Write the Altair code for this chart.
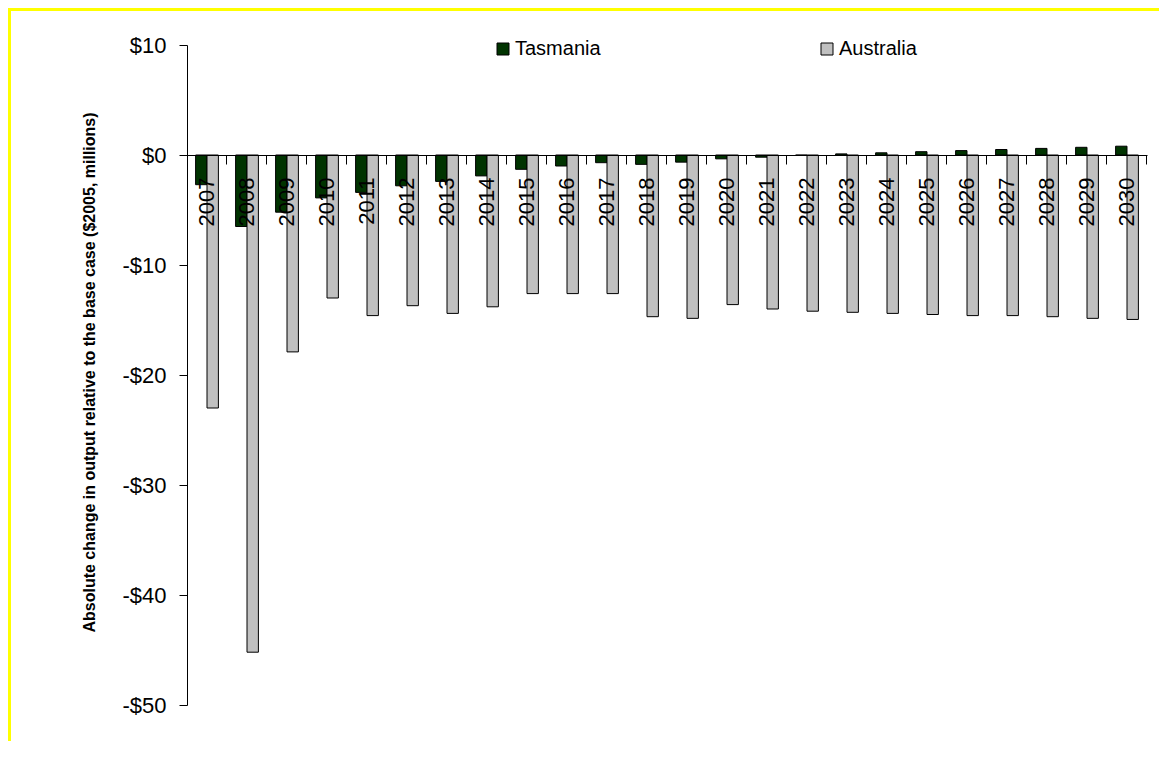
import altair as alt
import pandas as pd

years = [str(y) for y in range(2007, 2031)]
tasmania = [-2.7, -6.5, -5.2, -3.9, -3.4, -2.8, -2.4, -1.9, -1.3, -1.0, -0.7, -0.85,
            -0.65, -0.35, -0.2, -0.02, 0.1, 0.2, 0.3, 0.4, 0.5, 0.6, 0.7, 0.8]
australia = [-23.0, -45.2, -17.9, -13.0, -14.6, -13.7, -14.4, -13.8, -12.6, -12.6, -12.6, -14.7,
             -14.85, -13.6, -14.0, -14.2, -14.3, -14.4, -14.5, -14.6, -14.6, -14.7, -14.85, -14.95]
series = ["Tasmania", "Australia"]
colors = ["#003300", "#C0C0C0"]
y_ticks = [-50, -40, -30, -20, -10, 0, 10]
y_title = "Absolute change in output relative to the base case ($2005, millions)"

rows = []
for i, yr in enumerate(years):
    rows.append({"year": yr, "series": "Tasmania", "value": tasmania[i]})
    rows.append({"year": yr, "series": "Australia", "value": australia[i]})
df = pd.DataFrame(rows)

FONT = "Liberation Sans"
xscale = alt.Scale(paddingInner=0.43, paddingOuter=0.215)
yscale = alt.Scale(domain=[-50, 10], nice=False, zero=False)

y_axis = alt.Axis(values=y_ticks, grid=False, tickSize=8, tickColor="black",
                  domainColor="black", labelPadding=13, labelFontSize=22,
                  labelColor="black", labelFont=FONT,
                  labelExpr="datum.value < 0 ? '-$' + abs(datum.value) : '$' + datum.value",
                  title=y_title, titleFontSize=16, titleFontWeight="bold",
                  titleFont=FONT, titleColor="black", titleAngle=270,
                  titleX=-93, titleY=327, titleAlign="center",
                  titleBaseline="alphabetic")

bars = alt.Chart(df).mark_bar(stroke="black", strokeWidth=1).encode(
    x=alt.X("year:O", scale=xscale, sort=years, title=None,
            axis=alt.Axis(orient="bottom", offset=-550, ticks=False, domain=True,
                          domainColor="black", domainWidth=1, zindex=2,
                          labelAngle=270, labelAlign="right", labelBaseline="middle",
                          labelPadding=22, labelFontSize=22, labelColor="black",
                          labelFont=FONT, grid=False)),
    xOffset=alt.XOffset("series:N", sort=series,
                        scale=alt.Scale(paddingInner=0, paddingOuter=0)),
    y=alt.Y("value:Q", scale=yscale, title=y_title, axis=y_axis),
    color=alt.Color("series:N", sort=series,
                    scale=alt.Scale(domain=series, range=colors),
                    legend=alt.Legend(orient="none", legendX=306, legendY=-6,
                                      direction="horizontal", title=None,
                                      labelFontSize=20, labelFont=FONT, labelColor="black",
                                      symbolType="square", symbolSize=144,
                                      symbolStrokeColor="black", symbolStrokeWidth=1,
                                      labelOffset=2, columnPadding=216, padding=0)),
)

ticks = alt.Chart(df).mark_point(opacity=0).encode(
    x=alt.X("year:O", scale=xscale, sort=years, title=None,
            axis=alt.Axis(orient="bottom", offset=-550, ticks=True, tickSize=9,
                          tickColor="black", bandPosition=1.377, labels=False,
                          domain=False, grid=False, zindex=2)),
    y=alt.Y("value:Q", scale=yscale, title=y_title, axis=y_axis),
)

frame = pd.DataFrame({"k": [0]})
top_border = alt.Chart(frame).mark_rule(color="#FFFF00", strokeWidth=3).encode(
    x=alt.value(-180), x2=alt.value(990), y=alt.value(-35.5))
left_border = alt.Chart(frame).mark_rule(color="#FFFF00", strokeWidth=3).encode(
    x=alt.value(-177.5), y=alt.value(-40), y2=alt.value(720))

chart = alt.layer(bars, ticks, top_border, left_border).resolve_axis(
    x="independent").properties(
    width=960, height=660,
    autosize=alt.AutoSizeParams(type="none"),
    padding={"left": 179, "top": 37, "right": 12, "bottom": 36},
    background="white",
).configure(font=FONT).configure_view(strokeWidth=0)

chart.save("out.html", embed_options={"renderer": "svg", "actions": False})
